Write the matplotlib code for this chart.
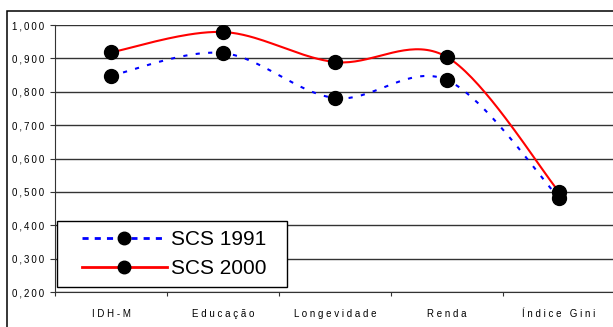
import numpy as np
import matplotlib
matplotlib.use("Agg")
import matplotlib.pyplot as plt
from matplotlib.lines import Line2D
from matplotlib.patches import Rectangle
from matplotlib.ticker import FuncFormatter, FixedLocator
from matplotlib.legend_handler import HandlerLine2D

plt.rcParams["font.family"] = ["Liberation Sans", "DejaVu Sans"]

categories = ["IDH-M", "Educação", "Longevidade", "Renda", "Índice Gini"]
scs_1991 = [0.848, 0.916, 0.781, 0.835, 0.482]
scs_2000 = [0.918, 0.979, 0.889, 0.904, 0.500]
series_names = ["SCS 1991", "SCS 2000"]


def excel_smooth(x, y, steps=40):
    # bezier segments like Excel's "smoothed line"
    x = np.asarray(x, float)
    y = np.asarray(y, float)
    px = np.concatenate([[x[0]], x, [x[-1]]])
    py = np.concatenate([[y[0]], y, [y[-1]]])
    out_x, out_y = [], []
    t = np.linspace(0, 1, steps)
    for i in range(len(x) - 1):
        p0 = np.array([px[i + 1], py[i + 1]])
        p3 = np.array([px[i + 2], py[i + 2]])
        c1 = p0 + (np.array([px[i + 2], py[i + 2]]) - np.array([px[i], py[i]])) / 6
        c2 = p3 - (np.array([px[i + 3], py[i + 3]]) - np.array([px[i + 1], py[i + 1]])) / 6
        bx = ((1 - t) ** 3 * p0[0] + 3 * (1 - t) ** 2 * t * c1[0]
              + 3 * (1 - t) * t ** 2 * c2[0] + t ** 3 * p3[0])
        by = ((1 - t) ** 3 * p0[1] + 3 * (1 - t) ** 2 * t * c1[1]
              + 3 * (1 - t) * t ** 2 * c2[1] + t ** 3 * p3[1])
        out_x.extend(bx)
        out_y.extend(by)
    return np.array(out_x), np.array(out_y)


class OffsetHandler(HandlerLine2D):
    # leaves some empty room on the left of the legend line
    def __init__(self, offset, **kw):
        super().__init__(**kw)
        self.offset = offset

    def create_artists(self, legend, orig_handle, xdescent, ydescent,
                       width, height, fontsize, trans):
        return super().create_artists(legend, orig_handle,
                                      xdescent - self.offset, ydescent,
                                      width - self.offset, height,
                                      fontsize, trans)


fig = plt.figure(figsize=(6.13, 3.27), dpi=100)
ax = fig.add_axes([55 / 613, 1 - 292 / 327, 560 / 613, 267 / 327])

# outer chart frame
fig.patches.append(Rectangle((7 / 613, -0.2), 1.2, 1.2 - 11 / 327,
                             transform=fig.transFigure, fill=False,
                             edgecolor="black", linewidth=1.1))

xs = np.arange(len(categories))

sx, sy = excel_smooth(xs, scs_1991)
ax.plot(sx, sy, color="#0000ff", linewidth=1.5, linestyle=(0, (2, 4)), zorder=3)
sx, sy = excel_smooth(xs, scs_2000)
ax.plot(sx, sy, color="#ff0000", linewidth=1.5, zorder=3)

ax.plot(xs, scs_1991, linestyle="none", marker="o", markersize=10,
        color="black", zorder=4)
ax.plot(xs, scs_2000, linestyle="none", marker="o", markersize=10,
        color="black", zorder=4)

ax.set_xlim(-0.5, len(categories) - 0.5)
ax.set_ylim(0.2, 1.0)
ax.set_yticks(np.arange(0.2, 1.001, 0.1))
ax.yaxis.set_major_formatter(
    FuncFormatter(lambda v, p: "\u2009".join(f"{v:.3f}".replace(".", ","))))
ax.yaxis.grid(True, color="#333333", linewidth=1.0)
ax.set_axisbelow(True)

ax.xaxis.set_major_locator(FixedLocator(np.arange(-0.5, len(categories), 1.0)))
ax.xaxis.set_major_formatter(FuncFormatter(lambda v, p: ""))
ax.xaxis.set_minor_locator(FixedLocator(xs))
ax.set_xticklabels([" ".join(list(c)) for c in categories], minor=True)
ax.tick_params(axis="x", which="major", length=3, direction="out", color="#333333")
ax.tick_params(axis="x", which="minor", length=0, pad=12.5, labelsize=7)
ax.tick_params(axis="y", length=3.6, pad=4, labelsize=7, color="#333333")

for s in ["top", "right"]:
    ax.spines[s].set_visible(False)
ax.spines["left"].set_color("#333333")
ax.spines["bottom"].set_color("#333333")

handles = [
    Line2D([], [], color="#0000ff", linewidth=2, linestyle=(0, (2.2, 2.2)),
           marker="o", markersize=9, markerfacecolor="black",
           markeredgecolor="black"),
    Line2D([], [], color="#ff0000", linewidth=2, marker="o", markersize=9,
           markerfacecolor="black", markeredgecolor="black"),
]
leg = ax.legend(handles, [n + "  " for n in series_names], loc="lower left",
                bbox_to_anchor=(2 / 560, 5 / 267), fontsize=15,
                fancybox=False, framealpha=1, edgecolor="black",
                handlelength=4.87, handletextpad=0.2, labelspacing=0.5,
                borderpad=0.42, borderaxespad=0,
                handler_map={Line2D: OffsetHandler(11.5)})
leg.get_frame().set_linewidth(1.0)

plt.savefig("out.png", dpi=100)
plt.close()
